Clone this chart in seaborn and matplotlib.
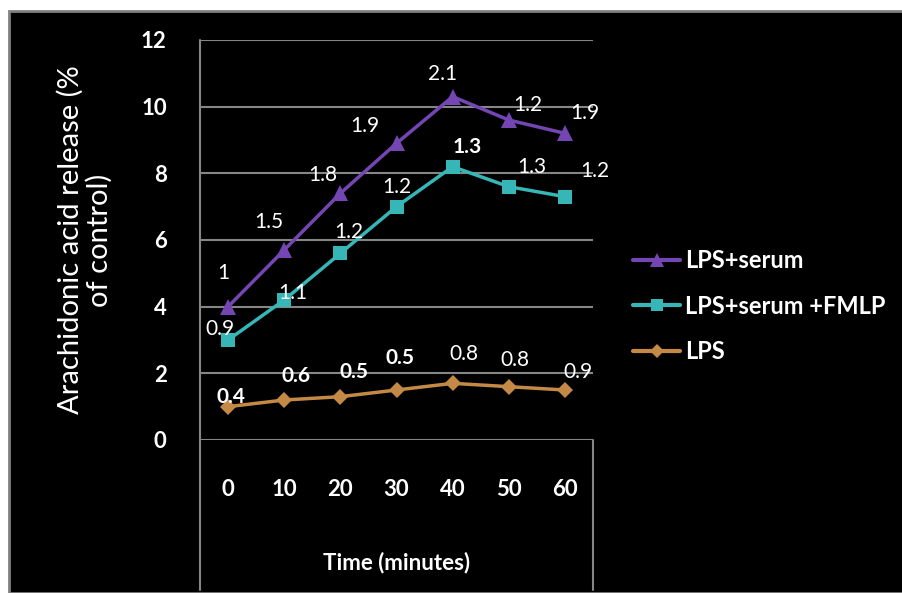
import matplotlib
matplotlib.use("Agg")
import matplotlib.pyplot as plt
import seaborn as sns
import pandas as pd
from matplotlib.patches import Rectangle
from matplotlib.lines import Line2D

# ---- data ----
times = ["0", "10", "20", "30", "40", "50", "60"]
lps_serum = [4.0, 5.7, 7.4, 8.9, 10.3, 9.6, 9.2]
lps_serum_fmlp = [3.0, 4.2, 5.6, 7.0, 8.2, 7.6, 7.3]
lps = [1.0, 1.2, 1.3, 1.5, 1.7, 1.6, 1.5]
lab_serum = ["1", "1.5", "1.8", "1.9", "2.1", "1.2", "1.9"]
lab_fmlp = ["0.9", "1.1", "1.2", "1.2", "1.3", "1.3", "1.2"]
lab_lps = ["0.4", "0.6", "0.5", "0.5", "0.8", "0.8", "0.9"]
series_names = ["LPS+serum", "LPS+serum +FMLP", "LPS"]
y_ticks = [0, 2, 4, 6, 8, 10, 12]

# ---- styling / layout ----
colors = ["#7446B4", "#36B6B6", "#C48A45"]
markers = ["^", "s", "D"]
msizes = [11, 10, 8]
# label offsets in pixels (dx, dy) relative to each point
off_serum = [(-5, 34), (-15, 28), (-18, 18), (-32, 17), (-10, 23), (19, 15), (20, 20)]
off_fmlp = [(-8, 11), (9, 7), (8, 21), (0, 20), (15, 20), (23, 20), (30, 26)]
off_lps = [(3, 10), (12, 24), (14, 25), (3, 32), (11, 29), (6, 27), (13, 18)]
bold_fmlp = [False, False, False, False, True, False, False]
bold_lps = [True, True, True, True, False, False, False]
bold_serum = [False] * 7

sns.set_theme(style="white")
FONT = ["Lato", "DejaVu Sans"]
plt.rcParams["font.family"] = FONT

W, H = 902, 593
fig = plt.figure(figsize=(W / 100, H / 100), dpi=100, facecolor="white")
fig.patches.append(Rectangle((9 / W, 0), 1, 1 - 11 / H, transform=fig.transFigure,
                             facecolor="black", edgecolor="#808080", linewidth=2,
                             zorder=-10))

ax = fig.add_axes([200 / W, (H - 440) / H, 393 / W, 400 / H])
ax.set_facecolor("none")

df = pd.DataFrame({
    "time": times * 3,
    "value": lps_serum + lps_serum_fmlp + lps,
    "series": [series_names[0]] * 7 + [series_names[1]] * 7 + [series_names[2]] * 7,
})

for i, name in enumerate(series_names):
    sub = df[df["series"] == name]
    sns.lineplot(data=sub, x="time", y="value", ax=ax, color=colors[i],
                 marker=markers[i], markersize=msizes[i], markeredgewidth=0,
                 linewidth=2.5, sort=False, legend=False, zorder=5 - i)

ax.set_xlim(-0.5, 6.5)
ax.set_ylim(0, 12)
ax.set_yticks(y_ticks)
ax.set_yticklabels([str(t) for t in y_ticks], color="white", fontsize=16,
                   fontweight="bold")
ax.set_xticks(range(len(times)))
ax.set_xticklabels(times, color="white", fontsize=16, fontweight="bold")
ax.tick_params(axis="y", length=0, pad=24)
ax.tick_params(axis="x", length=0, pad=28)
ax.grid(axis="y", color="#868686", linewidth=1.5)
ax.grid(axis="x", visible=False)
for s in ax.spines.values():
    s.set_visible(False)

# frame lines (left axis extended, right box edge below)
ax.add_line(Line2D([0, 0], [1, -0.375], transform=ax.transAxes, color="#868686",
                   linewidth=1.5, clip_on=False))
ax.add_line(Line2D([1, 1], [0, -0.375], transform=ax.transAxes, color="#868686",
                   linewidth=1.5, clip_on=False))

ax.set_xlabel("Time (minutes)", color="white", fontsize=16, fontweight="bold",
              labelpad=37)
ax.set_ylabel("Arachidonic acid release (%\nof control)", color="white",
              fontsize=21, labelpad=20, linespacing=1.12)

# data labels
for vals, labs, offs, bolds in [(lps_serum, lab_serum, off_serum, bold_serum),
                                (lps_serum_fmlp, lab_fmlp, off_fmlp, bold_fmlp),
                                (lps, lab_lps, off_lps, bold_lps)]:
    for j, (v, t, o, b) in enumerate(zip(vals, labs, offs, bolds)):
        ax.annotate(t, (j, v), xytext=(o[0] * 0.72, o[1] * 0.72),
                    textcoords="offset points", ha="center", va="center",
                    color="white", fontsize=15,
                    fontweight="bold" if b else "normal", zorder=10)

handles = [Line2D([0], [0], color=colors[i], marker=markers[i],
                  markersize=msizes[i] - 1, markeredgewidth=0, linewidth=3)
           for i in range(3)]
leg = fig.legend(handles, series_names, loc="upper left",
                 bbox_to_anchor=(612 / W, 1 - 228 / H), frameon=False,
                 handlelength=2.0, handletextpad=0.2, labelspacing=0.95,
                 prop={"family": FONT, "weight": "bold", "size": 17})
for t in leg.get_texts():
    t.set_color("white")

fig.savefig("out.png", dpi=100, facecolor="white")
